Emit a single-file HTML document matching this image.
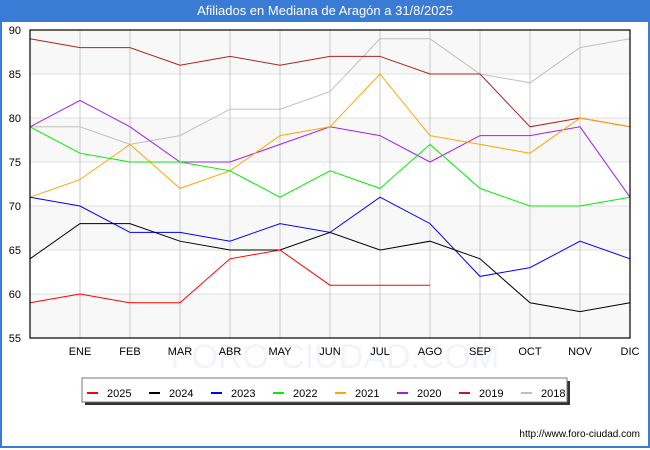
<!DOCTYPE html>
<html><head><meta charset="utf-8"><style>
body{margin:0;width:650px;height:450px;overflow:hidden;font-family:"Liberation Sans","DejaVu Sans",sans-serif;}
#wrap{position:absolute;left:0;top:0;width:646px;height:446px;border:2px solid #3a7bd5;border-top:none;background:#fff;}
#title{position:absolute;left:0;top:0;width:650px;height:22px;background:#3a7bd5;color:#fff;font-size:13px;line-height:22px;text-align:center;}
</style></head><body>
<div id="wrap"></div>
<div id="title">Afiliados en Mediana de Aragón a 31/8/2025</div>
<svg id="chart" width="650" height="450" style="position:absolute;left:0;top:0"></svg>
<script>
const months=["","ENE","FEB","MAR","ABR","MAY","JUN","JUL","AGO","SEP","OCT","NOV","DIC"];
const yTicks=[55,60,65,70,75,80,85,90];
const seriesNames=["2025","2024","2023","2022","2021","2020","2019","2018"];
const seriesColors=["#ff0000","#000000","#0000ff","#00ee00","#ffa500","#a020f0","#b22222","#c0c0c0"];
const s2025=[59,60,59,59,64,65,61,61,61];
const s2024=[64,68,68,66,65,65,67,65,66,64,59,58,59];
const s2023=[71,70,67,67,66,68,67,71,68,62,63,66,64];
const s2022=[79,76,75,75,74,71,74,72,77,72,70,70,71];
const s2021=[71,73,77,72,74,78,79,85,78,77,76,80,79];
const s2020=[79,82,79,75,75,77,79,78,75,78,78,79,71];
const s2019=[89,88,88,86,87,86,87,87,85,85,79,80,79];
const s2018=[79,79,77,78,81,81,83,89,89,85,84,88,89];
const allSeries=[s2025,s2024,s2023,s2022,s2021,s2020,s2019,s2018];
const L=30,R=630,T=30,B=338,yMin=55,yMax=90;
const x=i=>L+i*(R-L)/(months.length-1);
const y=v=>B-(v-yMin)*(B-T)/(yMax-yMin);
const NS="http://www.w3.org/2000/svg";
const svg=document.getElementById('chart');
function mk(tag,attrs,parent){const e=document.createElementNS(NS,tag);for(const k in attrs)e.setAttribute(k,attrs[k]);(parent||svg).appendChild(e);return e;}
for(let i=0;i<yTicks.length-1;i++){
  if((yTicks.length-2-i)%2===0){
    const r=mk('rect',{x:L,y:y(yTicks[i+1]),width:R-L,height:y(yTicks[i])-y(yTicks[i+1]),fill:'#f8f8f8'});
    
    
  }
}
yTicks.forEach(v=>{
  const g=mk('line',{x1:L,x2:R,y1:y(v),y2:y(v),stroke:'#e0e0e0','stroke-width':1});
  
  
  const t=mk('text',{x:L-9,y:y(v)+4,'text-anchor':'end','font-size':11,fill:'#000'});
  t.textContent=v;
  
  
});
const wm=mk('text',{x:335,y:368,'text-anchor':'middle','font-size':34,fill:'#f3f4fb'});
wm.textContent='FORO-CIUDAD.COM';


months.forEach((m,i)=>{
  const g=mk('line',{x1:x(i),x2:x(i),y1:T,y2:B,stroke:'#c8c8c8','stroke-width':1});
  
  
  if(m){const t=mk('text',{x:x(i),y:B+17,'text-anchor':'middle','font-size':11,fill:'#000'});
  t.textContent=m;
  
  }
});
for(let s=allSeries.length-1;s>=0;s--){
  const p=mk('polyline',{points:allSeries[s].map((v,i)=>x(i)+','+y(v)).join(' '),fill:'none',stroke:seriesColors[s],'stroke-width':1});
  
  
}
const frame=mk('rect',{x:L,y:T,width:R-L,height:B-T,fill:'none',stroke:'#000','stroke-width':1.2});


const sh=mk('rect',{x:85,y:381,width:485,height:24,fill:'#333'});


const lg=mk('rect',{x:82,y:378,width:485,height:24,fill:'#fff',stroke:'#777','stroke-width':1});


seriesNames.forEach((n,i)=>{
  const bx=87+i*62;
  const sw=mk('line',{x1:bx,x2:bx+11,y1:393,y2:393,stroke:seriesColors[i],'stroke-width':2});
  
  
  const t=mk('text',{x:bx+20,y:397,'font-size':11,fill:'#000'});
  t.textContent=n;
  
  
});
const url=mk('text',{x:640,y:437,'text-anchor':'end','font-size':10,fill:'#000'});
url.textContent='http://www.foro-ciudad.com';


</script>
</body></html>
